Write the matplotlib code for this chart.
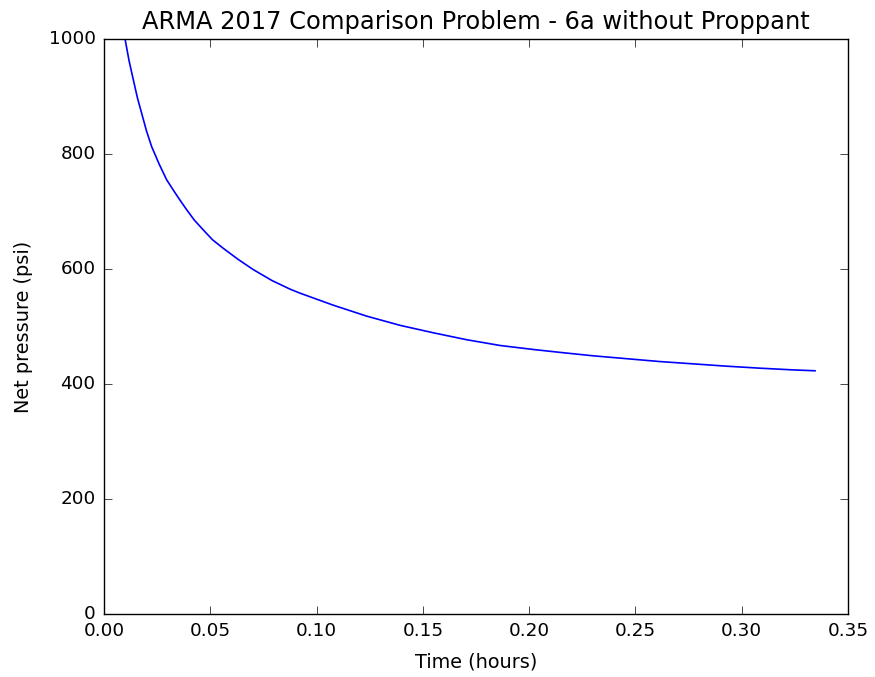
import matplotlib
matplotlib.use("Agg")
import matplotlib.pyplot as plt

# Data
time_hours = [0.0099, 0.0118, 0.0138, 0.0157, 0.0177, 0.0200, 0.0224, 0.0260, 0.0295,
              0.0330, 0.0357, 0.0389, 0.0425, 0.0467, 0.0510, 0.0561, 0.0630, 0.0702,
              0.0790, 0.0875, 0.0922, 0.1079, 0.1236, 0.1393, 0.1550, 0.1706, 0.1863,
              0.2020, 0.2145, 0.2302, 0.2459, 0.2616, 0.2773, 0.2929, 0.3086, 0.3243,
              0.3345]
net_pressure = [1000, 962, 929, 898, 871, 840, 813, 782, 755,
                735, 720, 703, 685, 668, 651, 636, 617, 599,
                580, 565, 558, 537, 518, 502, 489, 477, 467,
                460, 455, 449, 444, 439, 435, 431, 427.5, 424.5,
                423]

title = "ARMA 2017 Comparison Problem - 6a without Proppant"
xlabel = "Time (hours)"
ylabel = "Net pressure (psi)"
xticks = [0.00, 0.05, 0.10, 0.15, 0.20, 0.25, 0.30, 0.35]
yticks = [0, 200, 400, 600, 800, 1000]

plt.style.use("classic")
plt.rcParams["font.family"] = ["DejaVu Sans"]
fig = plt.figure(figsize=(8.75, 6.77), dpi=100, facecolor="white")
ax = fig.add_axes([104 / 875, 63 / 677, 744 / 875, 575 / 677])
ax.set_facecolor("white")
ax.plot(time_hours, net_pressure, color="#0000ff", linewidth=1.2)
ax.set_xlim(0, 0.35)
ax.set_ylim(0, 1000)
ax.set_xticks(xticks)
ax.set_xticklabels([f"{t:.2f}" for t in xticks])
ax.set_yticks(yticks)
ax.set_xlabel(xlabel, fontsize=13.9, labelpad=9)
ax.set_ylabel(ylabel, fontsize=13.9, labelpad=11)
ax.set_title(title, fontsize=17.4, pad=7)
ax.tick_params(labelsize=13.2, length=5.5, pad=6)
fig.savefig("out.png", dpi=100, facecolor="white")
